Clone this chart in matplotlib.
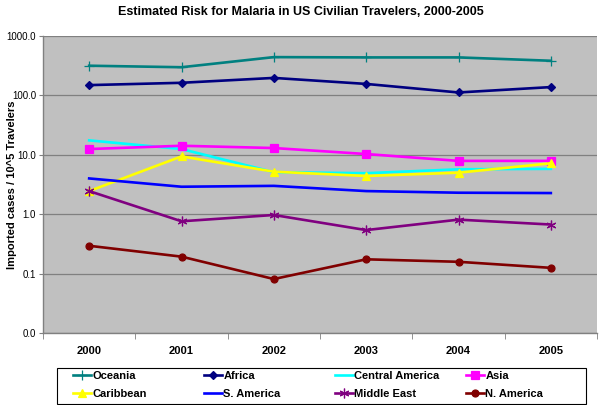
import matplotlib
matplotlib.use("Agg")
import matplotlib.pyplot as plt
from matplotlib.patches import Rectangle
from matplotlib.ticker import FixedLocator, FuncFormatter

plt.rcParams['font.family'] = ['Liberation Sans', 'DejaVu Sans']

years = ["2000", "2001", "2002", "2003", "2004", "2005"]

oceania = [316, 298, 441, 436, 436, 383]
africa = [149, 163, 197, 156, 112, 138]
central_america = [17.5, 12.5, 5.1, 4.9, 5.7, 5.8]
asia = [12.5, 14.2, 13.0, 10.3, 7.9, 7.9]
caribbean = [2.45, 9.4, 5.2, 4.4, 5.0, 7.2]
s_america = [4.0, 2.9, 3.0, 2.45, 2.3, 2.27]
middle_east = [2.45, 0.76, 0.97, 0.54, 0.81, 0.67]
n_america = [0.294, 0.193, 0.081, 0.174, 0.158, 0.125]

series = [
    ("Oceania", oceania, "#008080", "+", 7),
    ("Africa", africa, "#000080", "D", 4.5),
    ("Central America", central_america, "#00FFFF", None, 0),
    ("Asia", asia, "#FF00FF", "s", 6),
    ("Caribbean", caribbean, "#FFFF00", "^", 6),
    ("S. America", s_america, "#0000FF", None, 0),
    ("Middle East", middle_east, "#800080", (6, 2, 0), 7),
    ("N. America", n_america, "#800000", "o", 5),
]

fig = plt.figure(figsize=(6.01, 4.05), dpi=100)
ax = fig.add_axes([43 / 601, 1 - 333 / 405, 554 / 601, 297 / 405])
ax.set_facecolor("#C0C0C0")

x = range(len(years))
handles = []
for name, vals, color, marker, ms in series:
    h, = ax.plot(x, vals, color=color, lw=1.9, marker=marker, markersize=ms,
                 markeredgecolor=color, markerfacecolor=color, mew=0.9, label=name)
    handles.append(h)

ax.set_yscale("log")
ax.set_ylim(0.01, 1000)
ax.set_xlim(-0.5, len(years) - 0.5)
ax.yaxis.set_major_locator(FixedLocator([0.01, 0.1, 1, 10, 100, 1000]))
ax.yaxis.set_minor_locator(FixedLocator([]))
ax.yaxis.set_major_formatter(FuncFormatter(lambda v, p: f"{v:.1f}"))
ax.grid(axis="y", color="#808080", lw=0.9)
ax.set_axisbelow(True)

ax.set_xticks(list(x))
ax.set_xticklabels(years, fontsize=8, fontweight="bold")
ax.set_xticks([i - 0.5 for i in range(len(years) + 1)], minor=True)
ax.tick_params(axis="x", which="major", length=0, pad=9)
ax.tick_params(axis="x", which="minor", length=4, color="#808080", direction="out")
ax.tick_params(axis="y", which="major", length=3, color="#808080", labelsize=7, pad=2)

for side in ["top", "right"]:
    ax.spines[side].set_visible(False)
for side in ["left", "bottom"]:
    ax.spines[side].set_color("#808080")
    ax.spines[side].set_linewidth(1.0)

ax.set_ylabel("Imported cases / 10^5 Travelers", fontsize=8, fontweight="bold")
ax.yaxis.set_label_coords(-26 / 554, 0.5)
fig.suptitle("Estimated Risk for Malaria in US Civilian Travelers, 2000-2005",
             fontsize=9, fontweight="bold", y=0.985)

# legend frame plus four columns laid out on an even grid
fig.add_artist(Rectangle((57 / 601, 1 - 404 / 405), 529 / 601, 36 / 405,
                         transform=fig.transFigure, facecolor="white",
                         edgecolor="#000000", lw=0.8))
col_x = [73, 204, 335, 466]
for c, cx in enumerate(col_x):
    hs = [handles[c], handles[c + 4]]
    leg = fig.legend(hs, [h.get_label() for h in hs], loc="upper left",
                     bbox_to_anchor=(cx / 601, 1 - 371 / 405), frameon=False,
                     prop={"size": 8, "weight": "bold"}, handlelength=1.6,
                     handletextpad=0.15, labelspacing=0.7, borderpad=0,
                     borderaxespad=0)

fig.savefig("out.png", dpi=100)
